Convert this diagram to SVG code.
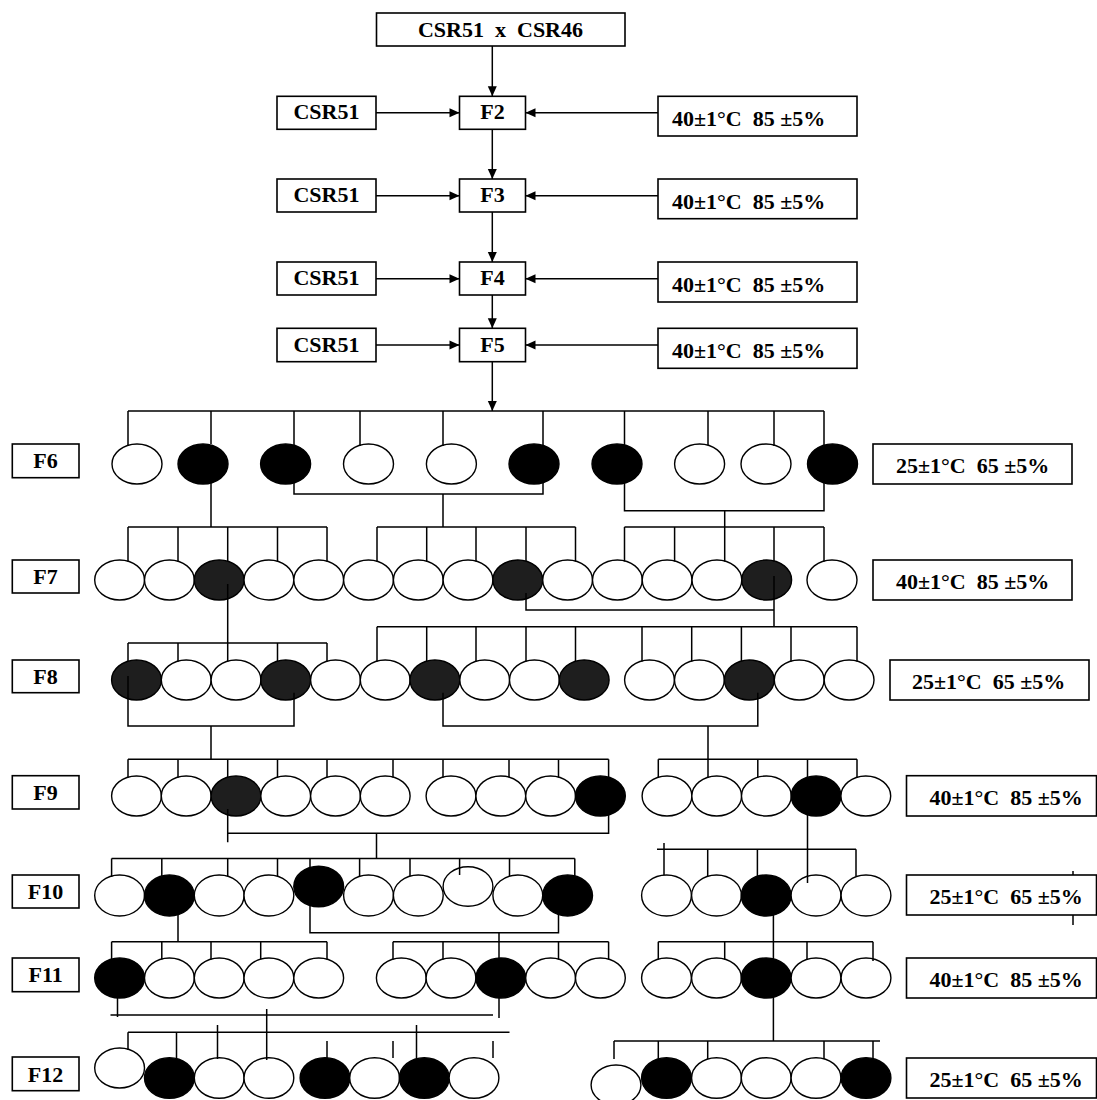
<svg xmlns="http://www.w3.org/2000/svg" width="1097" height="1100" viewBox="0 0 1097 1100">
<style>
.bx{fill:#fff;stroke:#000;stroke-width:1.6}
.t{font-family:"Liberation Serif","Times New Roman",serif;font-weight:bold;font-size:22px;fill:#000;white-space:pre}
.m{text-anchor:middle}
.w{fill:#fff;stroke:#000;stroke-width:1.4}
.b{fill:#000;stroke:#000;stroke-width:1.4}
.d{fill:#1e1e1e;stroke:#000;stroke-width:1.4}
.c{fill:none;stroke:#000;stroke-width:1.5}
</style>
<defs>
<marker id="ah" viewBox="0 0 10 10" refX="10" refY="5" markerWidth="11" markerHeight="10" markerUnits="userSpaceOnUse" orient="auto">
<path d="M0,0.5 L10,5 L0,9.5 Z" fill="#000"/>
</marker>
</defs>
<path class="c" d="M1073 871 V925"/>
<!-- top nodes -->
<g id="cross"><rect class="bx" x="376.5" y="13" width="248.5" height="33"/><text class="t m" x="500.5" y="36.5">CSR51  x  CSR46</text></g>
<g id="F2"><rect class="bx" x="459.5" y="96.3" width="66" height="33"/><text class="t m" x="492.5" y="119">F2</text></g>
<g id="F3"><rect class="bx" x="459.5" y="179" width="66" height="33"/><text class="t m" x="492.5" y="202">F3</text></g>
<g id="F4"><rect class="bx" x="459.5" y="262" width="66" height="33"/><text class="t m" x="492.5" y="285">F4</text></g>
<g id="F5"><rect class="bx" x="459.5" y="328.3" width="66" height="33.4"/><text class="t m" x="492.5" y="351.5">F5</text></g>
<g id="p2"><rect class="bx" x="277" y="96.3" width="99" height="33"/><text class="t m" x="326.5" y="119">CSR51</text></g>
<g id="p3"><rect class="bx" x="277" y="179" width="99" height="33"/><text class="t m" x="326.5" y="202">CSR51</text></g>
<g id="p4"><rect class="bx" x="277" y="262" width="99" height="33"/><text class="t m" x="326.5" y="285">CSR51</text></g>
<g id="p5"><rect class="bx" x="277" y="328.3" width="99" height="33.4"/><text class="t m" x="326.5" y="351.5">CSR51</text></g>
<g id="e2"><rect class="bx" x="658" y="96.3" width="199" height="39.7"/><text class="t" x="672" y="125.5">40±1°C  85 ±5%</text></g>
<g id="e3"><rect class="bx" x="658" y="179" width="199" height="39.7"/><text class="t" x="672" y="208.5">40±1°C  85 ±5%</text></g>
<g id="e4"><rect class="bx" x="658" y="262" width="199" height="40"/><text class="t" x="672" y="291.5">40±1°C  85 ±5%</text></g>
<g id="e5"><rect class="bx" x="658" y="328.3" width="199" height="40"/><text class="t" x="672" y="358">40±1°C  85 ±5%</text></g>
<!-- generation labels -->
<g id="L6"><rect class="bx" x="12.3" y="444" width="66.7" height="33.7"/><text class="t m" x="45.6" y="468">F6</text></g>
<g id="L7"><rect class="bx" x="12.3" y="560" width="66.7" height="33"/><text class="t m" x="45.6" y="583.5">F7</text></g>
<g id="L8"><rect class="bx" x="12.3" y="660" width="66.7" height="32.7"/><text class="t m" x="45.6" y="683.5">F8</text></g>
<g id="L9"><rect class="bx" x="12.3" y="775.7" width="66.7" height="33.3"/><text class="t m" x="45.6" y="799.5">F9</text></g>
<g id="L10"><rect class="bx" x="12.3" y="875" width="66.7" height="33"/><text class="t m" x="45.6" y="899">F10</text></g>
<g id="L11"><rect class="bx" x="12.3" y="958" width="66.7" height="33.7"/><text class="t m" x="45.6" y="982">F11</text></g>
<g id="L12"><rect class="bx" x="12.3" y="1057" width="66.7" height="33.7"/><text class="t m" x="45.6" y="1081.5">F12</text></g>
<!-- condition labels -->
<g id="c6"><rect class="bx" x="873" y="444" width="199" height="40"/><text class="t" x="896" y="473">25±1°C  65 ±5%</text></g>
<g id="c7"><rect class="bx" x="873" y="560" width="199" height="40"/><text class="t" x="896" y="589">40±1°C  85 ±5%</text></g>
<g id="c8"><rect class="bx" x="890" y="660" width="199" height="40"/><text class="t" x="912" y="689">25±1°C  65 ±5%</text></g>
<g id="c9"><rect class="bx" x="906.5" y="775.7" width="190" height="40.3"/><text class="t" x="929.5" y="805">40±1°C  85 ±5%</text></g>
<g id="c10"><rect class="bx" x="906.5" y="875" width="190" height="40"/><text class="t" x="929.5" y="904">25±1°C  65 ±5%</text></g>
<g id="c11"><rect class="bx" x="906.5" y="958" width="190" height="40"/><text class="t" x="929.5" y="987">40±1°C  85 ±5%</text></g>
<g id="c12"><rect class="bx" x="906.5" y="1058" width="190" height="40"/><text class="t" x="929.5" y="1087">25±1°C  65 ±5%</text></g>
<!-- F6 individuals -->
<g id="F6row">
<g id="f6a"><ellipse class="w" cx="137" cy="464" rx="25" ry="20"/></g>
<g id="f6b"><ellipse class="b" cx="203" cy="464" rx="25" ry="20"/></g>
<g id="f6c"><ellipse class="b" cx="285.6" cy="464" rx="25" ry="20"/></g>
<g id="f6d"><ellipse class="w" cx="368.5" cy="464" rx="25" ry="20"/></g>
<g id="f6e"><ellipse class="w" cx="451.4" cy="464" rx="25" ry="20"/></g>
<g id="f6f"><ellipse class="b" cx="534" cy="464" rx="25" ry="20"/></g>
<g id="f6g"><ellipse class="b" cx="617" cy="464" rx="25" ry="20"/></g>
<g id="f6h"><ellipse class="w" cx="699.6" cy="464" rx="25" ry="20"/></g>
<g id="f6i"><ellipse class="w" cx="766" cy="464" rx="25" ry="20"/></g>
<g id="f6j"><ellipse class="b" cx="832.5" cy="464" rx="25" ry="20"/></g>
</g>
<!-- F7 -->
<g id="F7row">
<g id="f7a"><ellipse class="w" cx="119.6" cy="580" rx="24.9" ry="20"/></g>
<g id="f7b"><ellipse class="w" cx="169.4" cy="580" rx="24.9" ry="20"/></g>
<g id="f7c"><ellipse class="d" cx="219.2" cy="580" rx="24.9" ry="20"/></g>
<g id="f7d"><ellipse class="w" cx="268.9" cy="580" rx="24.9" ry="20"/></g>
<g id="f7e"><ellipse class="w" cx="318.7" cy="580" rx="24.9" ry="20"/></g>
<g id="f7f"><ellipse class="w" cx="368.5" cy="580" rx="24.9" ry="20"/></g>
<g id="f7g"><ellipse class="w" cx="418.3" cy="580" rx="24.9" ry="20"/></g>
<g id="f7h"><ellipse class="w" cx="468" cy="580" rx="24.9" ry="20"/></g>
<g id="f7i"><ellipse class="d" cx="517.8" cy="580" rx="24.9" ry="20"/></g>
<g id="f7j"><ellipse class="w" cx="567.6" cy="580" rx="24.9" ry="20"/></g>
<g id="f7k"><ellipse class="w" cx="617.4" cy="580" rx="24.9" ry="20"/></g>
<g id="f7l"><ellipse class="w" cx="667.1" cy="580" rx="24.9" ry="20"/></g>
<g id="f7m"><ellipse class="w" cx="716.9" cy="580" rx="24.9" ry="20"/></g>
<g id="f7n"><ellipse class="d" cx="766.7" cy="580" rx="24.9" ry="20"/></g>
<g id="f7o"><ellipse class="w" cx="832" cy="580" rx="25" ry="20"/></g>
</g>
<!-- F8 -->
<g id="F8row">
<g id="f8a"><ellipse class="d" cx="136.5" cy="680" rx="24.9" ry="20"/></g>
<g id="f8b"><ellipse class="w" cx="186.2" cy="680" rx="24.9" ry="20"/></g>
<g id="f8c"><ellipse class="w" cx="236" cy="680" rx="24.9" ry="20"/></g>
<g id="f8d"><ellipse class="d" cx="285.7" cy="680" rx="24.9" ry="20"/></g>
<g id="f8e"><ellipse class="w" cx="335.5" cy="680" rx="24.9" ry="20"/></g>
<g id="f8f"><ellipse class="w" cx="385.2" cy="680" rx="24.9" ry="20"/></g>
<g id="f8g"><ellipse class="d" cx="434.9" cy="680" rx="24.9" ry="20"/></g>
<g id="f8h"><ellipse class="w" cx="484.7" cy="680" rx="24.9" ry="20"/></g>
<g id="f8i"><ellipse class="w" cx="534.4" cy="680" rx="24.9" ry="20"/></g>
<g id="f8j"><ellipse class="d" cx="584.2" cy="680" rx="24.9" ry="20"/></g>
<g id="f8k"><ellipse class="w" cx="649.5" cy="680" rx="24.9" ry="20"/></g>
<g id="f8l"><ellipse class="w" cx="699.4" cy="680" rx="24.9" ry="20"/></g>
<g id="f8m"><ellipse class="d" cx="749.3" cy="680" rx="24.9" ry="20"/></g>
<g id="f8n"><ellipse class="w" cx="799.2" cy="680" rx="24.9" ry="20"/></g>
<g id="f8o"><ellipse class="w" cx="849.1" cy="680" rx="24.9" ry="20"/></g>
</g>
<!-- F9 -->
<g id="F9row">
<g id="f9a"><ellipse class="w" cx="136.5" cy="796" rx="24.9" ry="20"/></g>
<g id="f9b"><ellipse class="w" cx="186.2" cy="796" rx="24.9" ry="20"/></g>
<g id="f9c"><ellipse class="d" cx="236" cy="796" rx="24.9" ry="20"/></g>
<g id="f9d"><ellipse class="w" cx="285.7" cy="796" rx="24.9" ry="20"/></g>
<g id="f9e"><ellipse class="w" cx="335.5" cy="796" rx="24.9" ry="20"/></g>
<g id="f9f"><ellipse class="w" cx="385.2" cy="796" rx="24.9" ry="20"/></g>
<g id="f9g"><ellipse class="w" cx="451" cy="796" rx="24.9" ry="20"/></g>
<g id="f9h"><ellipse class="w" cx="500.8" cy="796" rx="24.9" ry="20"/></g>
<g id="f9i"><ellipse class="w" cx="550.6" cy="796" rx="24.9" ry="20"/></g>
<g id="f9j"><ellipse class="b" cx="600.4" cy="796" rx="24.9" ry="20"/></g>
<g id="f9k"><ellipse class="w" cx="667" cy="796" rx="24.9" ry="20"/></g>
<g id="f9l"><ellipse class="w" cx="716.7" cy="796" rx="24.9" ry="20"/></g>
<g id="f9m"><ellipse class="w" cx="766.4" cy="796" rx="24.9" ry="20"/></g>
<g id="f9n"><ellipse class="b" cx="816.1" cy="796" rx="24.9" ry="20"/></g>
<g id="f9o"><ellipse class="w" cx="865.8" cy="796" rx="24.9" ry="20"/></g>
</g>
<!-- F10 -->
<g id="F10row">
<g id="f10a"><ellipse class="w" cx="119.6" cy="895.5" rx="24.9" ry="20.5"/></g>
<g id="f10b"><ellipse class="b" cx="169.4" cy="895.5" rx="24.9" ry="20.5"/></g>
<g id="f10c"><ellipse class="w" cx="219.2" cy="895.5" rx="24.9" ry="20.5"/></g>
<g id="f10d"><ellipse class="w" cx="268.9" cy="895.5" rx="24.9" ry="20.5"/></g>
<g id="f10e"><ellipse class="b" cx="318.7" cy="886.5" rx="24.9" ry="20.3"/></g>
<g id="f10f"><ellipse class="w" cx="368.5" cy="895.5" rx="24.9" ry="20.5"/></g>
<g id="f10g"><ellipse class="w" cx="418.3" cy="895.5" rx="24.9" ry="20.5"/></g>
<g id="f10h"><ellipse class="w" cx="468" cy="886.5" rx="24.9" ry="19.8"/></g>
<g id="f10i"><ellipse class="w" cx="517.8" cy="895.5" rx="24.9" ry="20.5"/></g>
<g id="f10j"><ellipse class="b" cx="567.6" cy="895.5" rx="24.9" ry="20.5"/></g>
<g id="f10k"><ellipse class="w" cx="666.5" cy="895.5" rx="24.9" ry="20.5"/></g>
<g id="f10l"><ellipse class="w" cx="716.5" cy="895.5" rx="24.9" ry="20.5"/></g>
<g id="f10m"><ellipse class="b" cx="766.2" cy="895.5" rx="24.9" ry="20.5"/></g>
<g id="f10n"><ellipse class="w" cx="816" cy="895.5" rx="24.9" ry="20.5"/></g>
<g id="f10o"><ellipse class="w" cx="866" cy="895.5" rx="24.9" ry="20.5"/></g>
</g>
<!-- F11 -->
<g id="F11row">
<g id="f11a"><ellipse class="b" cx="119.6" cy="978" rx="24.9" ry="20"/></g>
<g id="f11b"><ellipse class="w" cx="169.4" cy="978" rx="24.9" ry="20"/></g>
<g id="f11c"><ellipse class="w" cx="219.2" cy="978" rx="24.9" ry="20"/></g>
<g id="f11d"><ellipse class="w" cx="268.9" cy="978" rx="24.9" ry="20"/></g>
<g id="f11e"><ellipse class="w" cx="318.7" cy="978" rx="24.9" ry="20"/></g>
<g id="f11f"><ellipse class="w" cx="401.3" cy="978" rx="24.9" ry="20"/></g>
<g id="f11g"><ellipse class="w" cx="451" cy="978" rx="24.9" ry="20"/></g>
<g id="f11h"><ellipse class="b" cx="500.8" cy="978" rx="24.9" ry="20"/></g>
<g id="f11i"><ellipse class="w" cx="550.6" cy="978" rx="24.9" ry="20"/></g>
<g id="f11j"><ellipse class="w" cx="600.4" cy="978" rx="24.9" ry="20"/></g>
<g id="f11k"><ellipse class="w" cx="666.5" cy="978" rx="24.9" ry="20"/></g>
<g id="f11l"><ellipse class="w" cx="716.5" cy="978" rx="24.9" ry="20"/></g>
<g id="f11m"><ellipse class="b" cx="766.2" cy="978" rx="24.9" ry="20"/></g>
<g id="f11n"><ellipse class="w" cx="816" cy="978" rx="24.9" ry="20"/></g>
<g id="f11o"><ellipse class="w" cx="866" cy="978" rx="24.9" ry="20"/></g>
</g>
<!-- F12 -->
<g id="F12row">
<g id="f12a"><ellipse class="w" cx="119.6" cy="1068" rx="24.9" ry="20"/></g>
<g id="f12b"><ellipse class="b" cx="169.4" cy="1078" rx="24.9" ry="20.3"/></g>
<g id="f12c"><ellipse class="w" cx="219.2" cy="1078" rx="24.9" ry="20.3"/></g>
<g id="f12d"><ellipse class="w" cx="268.9" cy="1078" rx="24.9" ry="20.3"/></g>
<g id="f12e"><ellipse class="b" cx="325" cy="1078" rx="24.9" ry="20.3"/></g>
<g id="f12f"><ellipse class="w" cx="374.6" cy="1078" rx="24.9" ry="20.3"/></g>
<g id="f12g"><ellipse class="b" cx="424.3" cy="1078" rx="24.9" ry="20.3"/></g>
<g id="f12h"><ellipse class="w" cx="474" cy="1078" rx="24.9" ry="20.3"/></g>
<g id="f12i"><ellipse class="w" cx="616" cy="1085" rx="24.9" ry="20"/></g>
<g id="f12j"><ellipse class="b" cx="666.5" cy="1078" rx="24.9" ry="20.3"/></g>
<g id="f12k"><ellipse class="w" cx="716.5" cy="1078" rx="24.9" ry="20.3"/></g>
<g id="f12l"><ellipse class="w" cx="766.2" cy="1078" rx="24.9" ry="20.3"/></g>
<g id="f12m"><ellipse class="w" cx="816" cy="1078" rx="24.9" ry="20.3"/></g>
<g id="f12n"><ellipse class="b" cx="866" cy="1078" rx="24.9" ry="20.3"/></g>
</g>
<!-- connectors -->
<g id="connectors">
<path class="c" marker-end="url(#ah)" d="M492.3 46 V96.3"/>
<path class="c" marker-end="url(#ah)" d="M492.3 129.3 V179"/>
<path class="c" marker-end="url(#ah)" d="M492.3 212 V262"/>
<path class="c" marker-end="url(#ah)" d="M492.3 295 V328.3"/>
<path class="c" marker-end="url(#ah)" d="M492.3 361.7 V411"/>
<path class="c" marker-end="url(#ah)" d="M376 112.7 H459.5"/>
<path class="c" marker-end="url(#ah)" d="M376 195.7 H459.5"/>
<path class="c" marker-end="url(#ah)" d="M376 278.7 H459.5"/>
<path class="c" marker-end="url(#ah)" d="M376 345 H459.5"/>
<path class="c" marker-end="url(#ah)" d="M658 112.7 H525.5"/>
<path class="c" marker-end="url(#ah)" d="M658 195.7 H525.5"/>
<path class="c" marker-end="url(#ah)" d="M658 278.7 H525.5"/>
<path class="c" marker-end="url(#ah)" d="M658 345 H525.5"/>
<!-- F6 -->
<path class="c" d="M128 411 H824 M128 411 V446 M211 411 V444 M294 411 V446 M360 411 V446 M443 411 V446 M543 411 V446 M624.5 411 V446 M708 411 V445 M774 411 V446 M824 411 V446"/>
<path class="c" d="M211 482 V527 M294 480 V494 H543 V480 M443 494 V527 M624.5 480 V510.7 H824 V480 M724.7 510.7 V527"/>
<!-- F7 -->
<path class="c" d="M128 527 H327 M128 527 V561.5 M178 527 V561.5 M227.7 527 V561.5 M277.5 527 V561.5 M327 527 V561.5"/>
<path class="c" d="M377 527 H575.5 M377 527 V561.5 M426.7 527 V561.5 M476 527 V561.5 M526 527 V561.5 M575.5 527 V561.5"/>
<path class="c" d="M624.5 527 H824 M624.5 527 V561.5 M674.6 527 V561.5 M724.7 527 V561.5 M774 527 V561.5 M824 527 V561.5"/>
<path class="c" d="M227.7 584 V643 M526 593 V610 H774 M774 576 V626.7"/>
<!-- F8 -->
<path class="c" d="M128 643 H327 M128 643 V661.5 M178 643 V661.5 M227.7 643 V661.5 M277.5 643 V661.5 M327 643 V661.5"/>
<path class="c" d="M377 626.7 H857 M377 626.7 V661.5 M426.7 626.7 V661.5 M476 626.7 V661.5 M526 626.7 V661.5 M575.5 626.7 V661.5 M642 626.7 V661.5 M691.7 626.7 V661.5 M741.4 626.7 V661.5 M791 626.7 V661.5 M857 626.7 V661.5"/>
<path class="c" d="M128 676 V726 H294 V692.7 M211 726 V759.3 M443 692.7 V726 H757.8 V692.7 M708 726 V759.3"/>
<!-- F9 -->
<path class="c" d="M128 759.3 H608.6 M128 759.3 V777.5 M178 759.3 V777.5 M227.7 759.3 V777.5 M277.5 759.3 V777.5 M327 759.3 V777.5 M393 759.3 V777.5 M443 759.3 V777.5 M509 759.3 V777.5 M558.5 759.3 V777.5 M608.6 759.3 V777.5"/>
<path class="c" d="M658.3 759.3 H857 M658.3 759.3 V777.5 M708 759.3 V777.5 M757.8 759.3 V777.5 M807.5 759.3 V777.5 M857 759.3 V777.5"/>
<path class="c" d="M227.7 809 V842.3 M227.7 833.3 H608.6 V814 M376.5 833.3 V858.6 M807.5 812 V883"/>
<!-- F10 -->
<path class="c" d="M111.6 858.6 H574.8 M111.6 858.6 V877 M161.8 858.6 V876 M227.7 858.6 V876 M277.5 858.6 V876 M310 858.6 V868 M359.6 858.6 V876 M410 858.6 V876 M459.6 858.6 V875 M509.5 858.6 V876 M574.8 858.6 V876"/>
<path class="c" d="M657 849.3 H856 M664 843 V875 M707.7 849.3 V876 M757.4 849.3 V876 M856 849.3 V876"/>
<path class="c" d="M178 914 V941.7 M310 888 V932.7 H558.5 V914 M499 932.7 V1018 M773.4 914 V1041"/>
<!-- F11 -->
<path class="c" d="M111.6 941.7 H327 M111.6 941.7 V959.5 M161.8 941.7 V959.5 M211 941.7 V959.5 M260.7 941.7 V959.5 M327 941.7 V959.5"/>
<path class="c" d="M393 941.7 H608.6 M393 941.7 V959.5 M443 941.7 V959.5 M558.5 941.7 V959.5 M608.6 941.7 V959.5"/>
<path class="c" d="M658.3 941.7 H873 M658.3 941.7 V959.5 M724.7 941.7 V959.5 M807 941.7 V959.5 M873 941.7 V961"/>
<path class="c" d="M117.5 996 V1017 M110.5 1015 H493"/>
<!-- F12 -->
<path class="c" d="M266.7 1009 V1060 M128 1032.3 H509.5 M128 1032.3 V1050 M176.5 1032.3 V1059 M217.5 1025 V1059 M327 1041 V1060 M393 1041 V1058 M416.5 1025 V1060 M493 1041 V1058"/>
<path class="c" d="M614 1041 H880 M614 1041 V1059 M658.3 1041 V1059 M707.7 1041 V1059 M824 1041 V1059 M873 1041 V1059"/>
</g>
</svg>
